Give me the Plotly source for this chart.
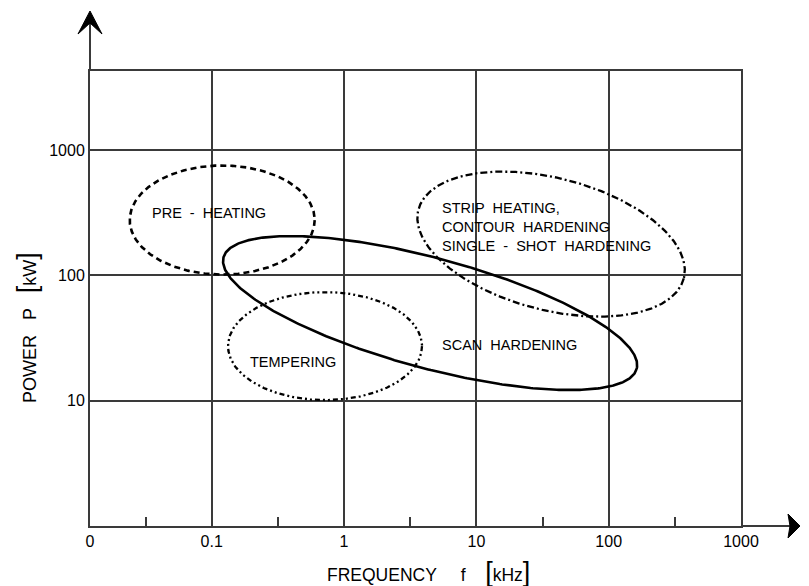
import numpy as np
import plotly.graph_objects as go

# ---------------- data ----------------
# axis ticks
x_tick_vals = [10 ** -1.92, 0.1, 1, 10, 100, 1000]
x_tick_text = ["0", "0.1", "1", "10", "100", "1000"]
x_minor_vals = [10 ** -1.5, 10 ** -0.5, 10 ** 0.5, 10 ** 1.5, 10 ** 2.5]
y_tick_vals = [10, 100, 1000]
y_tick_text = ["10", "100", "1000"]

# application regions (ellipses in log-log space)
region_names = ["PRE-HEATING", "TEMPERING", "STRIP", "SCAN"]
center_freq_khz = [0.120, 0.718, 36.7, 4.47]
center_power_kw = [277, 27.3, 178, 50.1]
semi_major_dec = [0.699, 0.733, 1.036, 1.617]   # decades (x-scale)
semi_minor_dec = [0.412, 0.408, 0.499, 0.416]   # decades (x-scale)
tilt_deg = [0.0, 0.0, 14.5, 15.1]               # downward to the right
line_dash = ["6px,4px", "5px,3px,2px,3px,2px,3px", "7px,3px,2px,3px", "solid"]
line_width = [2.6, 2.3, 2.3, 2.6]

# region labels (left edge / vertical middle)
label_text = ["PRE  -  HEATING",
              "STRIP  HEATING,<br>CONTOUR  HARDENING<br>SINGLE  -  SHOT  HARDENING",
              "TEMPERING",
              "SCAN  HARDENING"]
label_freq_khz = [0.0341, 5.31, 0.188, 5.31]
label_power_kw = [315, 243, 20.4, 27.8]

# ---------------- layout geometry ----------------
# the page body has an 8px margin, so the figure starts at (8, 8) on screen
OFF = 8
W, H = 809 - OFF, 586 - OFF
BOX_L, BOX_R, BOX_T, BOX_B = 90, 741, 71, 526      # plot box, screen pixels
ML, MR = BOX_L - OFF, W - (BOX_R - OFF)
MT, MB = BOX_T - OFF, H - (BOX_B - OFF)
x_range = [-1.92, 3.0]
y_range = [0.0, 3.632]
px_per_xdec = (BOX_R - BOX_L) / (x_range[1] - x_range[0])
px_per_ydec = (BOX_B - BOX_T) / (y_range[1] - y_range[0])
k = px_per_xdec / px_per_ydec


def px2paper(sx, sy):
    return (sx - BOX_L) / (BOX_R - BOX_L), (BOX_B - sy) / (BOX_B - BOX_T)


fig = go.Figure()

t = np.linspace(0, 2 * np.pi, 500)
for i in range(len(region_names)):
    th = np.radians(tilt_deg[i])
    a, b = semi_major_dec[i], semi_minor_dec[i]
    lx = np.log10(center_freq_khz[i]) + a * np.cos(t) * np.cos(th) - b * np.sin(t) * np.sin(th)
    ly = np.log10(center_power_kw[i]) - k * (a * np.cos(t) * np.sin(th) + b * np.sin(t) * np.cos(th))
    fig.add_trace(go.Scatter(
        x=10 ** lx, y=10 ** ly, mode="lines", name=region_names[i],
        line=dict(color="black", width=line_width[i], dash=line_dash[i]),
        hoverinfo="skip", showlegend=False))

font_family = "Liberation Sans, Arial, sans-serif"

for txt, fx, py in zip(label_text, label_freq_khz, label_power_kw):
    fig.add_annotation(x=np.log10(fx), y=np.log10(py), xref="x", yref="y",
                       text=txt, showarrow=False, xanchor="left", yanchor="middle",
                       align="left", font=dict(family=font_family, size=14.5, color="black"))

# axis titles
ax_, ay_ = px2paper(428, 572)
fig.add_annotation(
    x=ax_, y=ay_, xref="paper", yref="paper", showarrow=False,
    xanchor="center", yanchor="middle",
    text="FREQUENCY     f    <span style='font-size:27px'>[</span>kHz<span style='font-size:27px'>]</span>",
    font=dict(family=font_family, size=17.5, color="black"))
tx_, ty_ = px2paper(27, 328)
fig.add_annotation(
    x=tx_, y=ty_, xref="paper", yref="paper", showarrow=False, textangle=-90,
    xanchor="center", yanchor="middle",
    text="POWER   P   <span style='font-size:27px'>[</span>kW<span style='font-size:27px'>]</span>",
    font=dict(family=font_family, size=18, color="black"))

# axis extensions with arrow heads (paper coordinates)
axis_col = "#3a3a3a"
xt, yt = px2paper(BOX_L, 13)
fig.add_shape(type="line", xref="paper", yref="paper", x0=0, y0=1, x1=xt, y1=yt,
              line=dict(color=axis_col, width=2))
p = [px2paper(90, 11), px2paper(102, 34), px2paper(90, 23), px2paper(78, 34)]
fig.add_shape(type="path", xref="paper", yref="paper",
              path="M {} {} L {} {} L {} {} L {} {} Z".format(*[v for pt in p for v in pt]),
              fillcolor="black", line=dict(color="black", width=1))
xe, ye = px2paper(797, BOX_B)
fig.add_shape(type="line", xref="paper", yref="paper", x0=1, y0=0, x1=xe, y1=0,
              line=dict(color=axis_col, width=2))
q = [px2paper(800, 526), px2paper(788, 514), px2paper(790, 526), px2paper(788, 538)]
fig.add_shape(type="path", xref="paper", yref="paper",
              path="M {} {} L {} {} L {} {} L {} {} Z".format(*[v for pt in q for v in pt]),
              fillcolor="black", line=dict(color="black", width=1))

fig.update_xaxes(type="log", range=x_range, tickmode="array", tickvals=x_tick_vals,
                 ticktext=x_tick_text, ticks="", showgrid=True, gridcolor="#3a3a3a",
                 gridwidth=1.5, showline=True, linecolor=axis_col, linewidth=2, mirror=True,
                 zeroline=False, tickfont=dict(family=font_family, size=16, color="black"),
                 minor=dict(tickmode="array", tickvals=x_minor_vals, ticks="inside",
                            ticklen=9, tickwidth=1.5, tickcolor="#3a3a3a", showgrid=False))
fig.update_yaxes(type="log", range=y_range, tickmode="array", tickvals=y_tick_vals,
                 ticktext=y_tick_text, ticks="", showgrid=True, gridcolor="#3a3a3a",
                 gridwidth=1.5, showline=True, linecolor=axis_col, linewidth=2, mirror=True,
                 zeroline=False, tickfont=dict(family=font_family, size=16, color="black"))

fig.update_layout(width=W, height=H, margin=dict(l=ML, r=MR, t=MT, b=MB),
                  paper_bgcolor="white", plot_bgcolor="white", showlegend=False,
                  hovermode=False)

fig.write_html("out.html")
